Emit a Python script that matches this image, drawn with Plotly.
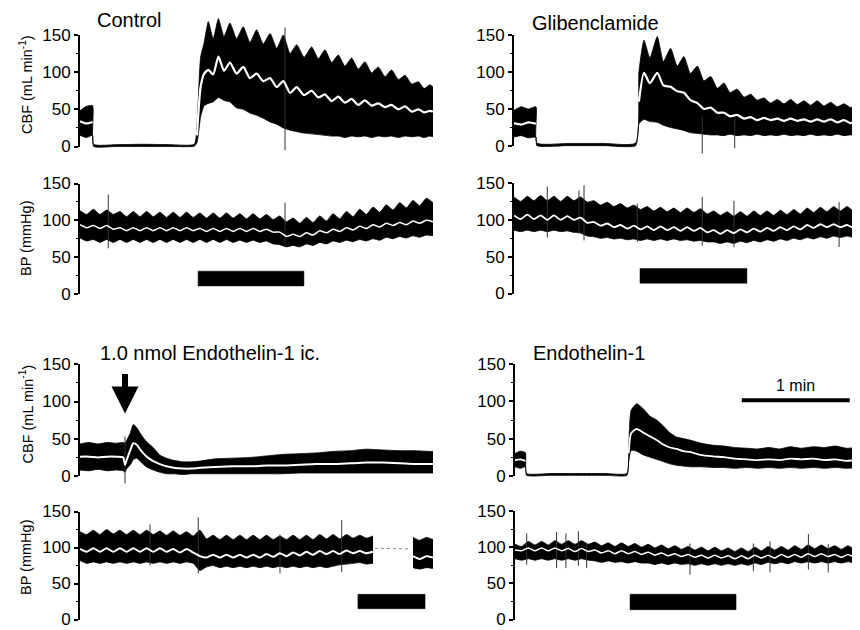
import plotly.graph_objects as go

# page body keeps an 8 px default margin, so the figure is drawn 8 px smaller and positions
# below are given in window pixels, then shifted by that offset
OFF = 8
W, H = 860 - OFF, 630 - OFF
FONT = "Liberation Sans, Arial, Helvetica, sans-serif"

# ---------------- data: time (s), CBF (mL/min), BP (mmHg) ----------------
# Control, CBF envelope (hi/lo) and mean
CTRL_CBF_T = [0, 3.5, 7.0, 7.6, 20, 35, 50, 63.5, 65, 67, 69, 71.3, 74, 76.9, 80, 83.3,
              87, 90.7, 94.4, 98.1, 101.8, 105.6, 109.3, 113, 116.7, 120.4, 124.5, 128.7,
              132.4, 136.1, 139.8, 143.5, 147.2, 150.9, 154.6, 158.3, 162, 165.7, 169.4,
              173.1, 176.9, 180.6, 184.3, 188, 191.2, 194.4, 196.1]
CTRL_CBF_HI = [48, 54, 55, 3, 2.5, 3, 2.5, 3, 30, 120, 140, 168, 145, 172, 148, 166,
               145, 161, 140, 157, 138, 152, 132, 150, 125, 137, 120, 134, 118, 130, 113, 123,
               108, 119, 104, 114, 99, 107, 94, 103, 90, 96, 84, 87, 78, 83, 80]
CTRL_CBF_LO = [15, 12, 15, 0, 0, 0, 0, 0.5, 5, 40, 55, 58, 60, 66, 62, 60,
               52, 50, 45, 42, 38, 33, 30, 25, 22, 20, 18, 17, 16, 15, 14, 14,
               12, 14, 13, 14, 12, 14, 13, 14, 12, 14, 13, 14, 12, 14, 13]
CTRL_CBF_MEAN = [34, 31, 33, None, None, None, None, None, 15, 80, 98, 103, 97, 121, 102, 113,
                 98, 107, 92, 98, 88, 92, 80, 88, 72, 80, 69, 75, 66, 70, 61, 67,
                 59, 64, 56, 62, 55, 58, 53, 56, 50, 54, 47, 50, 46, 48, 47]
CTRL_CBF_SPIKE_T = [113.9]
CTRL_CBF_SPIKE_TOP = [160]
CTRL_CBF_SPIKE_BOT = [-5]

# Glibenclamide, CBF
GLIB_CBF_T = [0, 4, 8, 12.2, 12.7, 30, 50, 67.6, 69.4, 72.2, 75.5, 79.6, 83, 87, 90.7, 94.4,
              98, 101.9, 105.5, 109.3, 113, 116.7, 120, 124, 127.8, 131.5, 135, 138.9, 142.6,
              146.3, 150, 153.7, 157.4, 161.1, 164.8, 168.5, 172.2, 175.9, 179.6, 183.3, 187,
              190, 192.6]
GLIB_CBF_HI = [48, 53, 50, 53, 4, 3.5, 3.5, 4, 100, 143, 119, 148, 114, 132, 108, 121,
               98, 108, 88, 94, 78, 85, 72, 77, 66, 70, 62, 65, 58, 63, 57, 63,
               56, 61, 55, 61, 54, 59, 53, 57, 52, 56, 55]
GLIB_CBF_LO = [12, 14, 11, 12, 0.5, 0.5, 0.5, 0.5, 30, 36, 33, 32, 28, 25, 23, 21,
               18, 17, 16, 15, 15, 14, 16, 14, 15, 14, 16, 14, 15, 14, 16, 14,
               15, 14, 16, 14, 15, 14, 16, 14, 15, 14, 15]
GLIB_CBF_MEAN = [31, 29, 32, 30, None, None, None, None, 60, 99, 85, 99, 82, 80, 74, 72,
                 62, 58, 50, 52, 45, 45, 40, 42, 37, 39, 35, 38, 35, 37, 34, 37,
                 34, 36, 33, 36, 33, 36, 32, 35, 31, 34, 32]
GLIB_CBF_SPIKE_T = [104.6, 122.6]
GLIB_CBF_SPIKE_TOP = [40, 38]
GLIB_CBF_SPIKE_BOT = [-10, -3]

# BP traces sampled every half respiratory cycle
BP_DT = 3.7
CTRL_BP_HI = [113, 108, 115, 108, 114, 108, 112, 105, 112, 105,
              112, 105, 111, 104, 111, 104, 111, 104, 110, 103,
              110, 103, 110, 103, 109, 102, 109, 102, 108, 101,
              106, 98, 103, 96, 104, 97, 106, 99, 109, 102,
              112, 105, 115, 108, 118, 111, 121, 114, 124, 117,
              127, 120, 130, 124]
CTRL_BP_LO = [76, 72, 74, 70, 74, 70, 74, 70, 74, 70,
              74, 70, 74, 70, 74, 70, 74, 70, 74, 70,
              74, 70, 74, 70, 73, 70, 73, 70, 72, 68,
              67, 64, 66, 64, 68, 66, 70, 68, 72, 70,
              73, 71, 74, 72, 75, 73, 77, 75, 78, 76,
              79, 77, 80, 79]
CTRL_BP_MEAN = [94, 90, 93, 89, 93, 88, 90, 86, 90, 86,
                90, 86, 90, 86, 90, 86, 90, 86, 89, 85,
                89, 85, 89, 85, 89, 85, 89, 85, 88, 84,
                84, 78, 81, 78, 83, 80, 86, 83, 88, 85,
                90, 87, 92, 89, 94, 91, 96, 93, 97, 94,
                99, 96, 100, 98]
CTRL_BP_SPIKE_T = [15.7, 113.9]
CTRL_BP_SPIKE_TOP = [135, 124]
CTRL_BP_SPIKE_BOT = [62, 64]

GLIB_BP_HI = [131, 125, 132, 126, 133, 126, 132, 125, 132, 126,
              131, 124, 126, 120, 124, 118, 122, 116, 120, 114,
              118, 112, 117, 111, 116, 110, 116, 110, 115, 108,
              112, 106, 111, 105, 111, 105, 112, 106, 112, 106,
              113, 107, 114, 108, 116, 110, 117, 111, 118, 112,
              118, 112, 117]
GLIB_BP_LO = [86, 84, 86, 84, 86, 84, 86, 84, 85, 83,
              82, 78, 77, 75, 76, 74, 75, 73, 74, 72,
              74, 72, 74, 72, 74, 72, 73, 71, 72, 70,
              70, 68, 70, 68, 71, 69, 72, 70, 73, 71,
              74, 72, 75, 73, 76, 74, 77, 75, 78, 76,
              78, 76, 77]
GLIB_BP_MEAN = [106, 101, 107, 101, 106, 100, 106, 100, 105, 100,
                103, 96, 97, 92, 95, 90, 93, 88, 92, 87,
                91, 86, 91, 86, 90, 85, 90, 85, 89, 83,
                86, 81, 86, 82, 87, 83, 88, 84, 89, 85,
                90, 86, 91, 87, 93, 89, 94, 90, 94, 90,
                93, 89, 92]
GLIB_BP_SPIKE_T = [18.5, 36.1, 38.9, 68.5, 104.6, 122.2, 180.6]
GLIB_BP_SPIKE_TOP = [145, 140, 147, 122, 131, 126, 124]
GLIB_BP_SPIKE_BOT = [76, 83, 72, 70, 65, 63, 63]

# 1.0 nmol Endothelin-1 ic., CBF
IC_CBF_T = [0, 5, 10, 15, 20, 24, 25, 26, 28, 29.6, 31.5, 33.3, 35, 37, 40.7, 44.4, 48,
            52, 57, 62, 66.7, 75, 85, 95, 103.7, 112, 122, 131, 140.7, 150, 159, 168,
            177.8, 186, 194.4, 196.1]
IC_CBF_HI = [43, 45, 43, 45, 44, 45, 44, 48, 58, 69, 65, 58, 52, 46, 38, 28, 24,
             21, 19, 19, 20, 23, 24, 25, 27, 29, 30, 31, 33, 34, 36, 35, 34, 34, 33, 33]
IC_CBF_LO = [8, 7, 9, 7, 8, 7, 5, 10, 15, 22, 24, 20, 16, 12, 8, 5, 3,
             3, 2, 3, 3, 3, 3, 3, 3, 3, 4, 4, 4, 4, 4, 4, 4, 4, 4, 4]
IC_CBF_MEAN = [26, 26, 25, 26, 26, 25, 15, 22, 35, 44, 42, 36, 31, 26, 20, 16, 13,
               11, 10, 10, 11, 12, 13, 13, 14, 14, 15, 16, 16, 17, 18, 18, 17, 16, 16, 16]
IC_CBF_SPIKE_T = [25.0]
IC_CBF_SPIKE_TOP = [53]
IC_CBF_SPIKE_BOT = [-10]
INJECTION_T = 25.0

# 1.0 nmol Endothelin-1 ic., BP (recording gap = None)
IC_BP_HI = [122, 118, 124, 118, 125, 119, 124, 118, 124, 118,
            124, 118, 123, 117, 123, 117, 122, 116, 124, 112,
            117, 111, 117, 111, 117, 111, 117, 111, 117, 111,
            116, 111, 117, 111, 117, 111, 118, 112, 118, 112,
            118, 113, 117, 113, 116, None, None, None, None, None,
            114, 110, 114, 111]
IC_BP_LO = [82, 78, 80, 78, 80, 78, 80, 78, 80, 78,
            80, 78, 80, 78, 80, 78, 80, 78, 68, 73,
            75, 72, 74, 72, 74, 72, 74, 72, 74, 72,
            74, 72, 74, 72, 74, 72, 74, 72, 74, 76,
            77, 78, 79, 77, 78, None, None, None, None, None,
            72, 70, 72, 71]
IC_BP_MEAN = [98, 94, 99, 94, 99, 94, 99, 94, 99, 94,
              99, 94, 99, 94, 98, 93, 98, 93, 88, 86,
              90, 86, 90, 86, 90, 86, 90, 86, 91, 87,
              92, 88, 93, 89, 94, 90, 95, 91, 95, 91,
              96, 92, 95, 92, 94, None, None, None, None, None,
              88, 84, 88, 86]
IC_BP_SPIKE_T = [38.9, 65.7, 111.1, 145.4]
IC_BP_SPIKE_TOP = [132, 142, 118, 138]
IC_BP_SPIKE_BOT = [75, 64, 64, 66]
IC_BP_GAP_T = [163.9, 183.3]
IC_BP_GAP_Y = [99, 98]

# Endothelin-1, CBF
ENDO_CBF_T = [0, 3, 5.8, 6.4, 20, 35, 50, 62.2, 63.2, 64.5, 67.6, 71.3, 75, 78.7, 82.4, 86,
              89.8, 93.5, 97.2, 103, 110, 116, 122, 128.7, 135, 141, 147, 153, 159, 165.7,
              172, 178, 184, 190, 192]
ENDO_CBF_HI = [30, 33, 31, 3, 3, 3, 3, 3, 40, 88, 97, 90, 80, 75, 67, 58,
               52, 50, 48, 44, 41, 40, 38, 37, 36, 38, 36, 39, 37, 39, 38, 40, 37, 38, 38]
ENDO_CBF_LO = [12, 10, 12, 0.5, 0.5, 0.5, 0.5, 0.5, 20, 34, 33, 28, 25, 22, 19, 16,
               14, 13, 12, 12, 11, 11, 10, 11, 10, 11, 10, 11, 10, 11, 10, 11, 10, 11, 11]
ENDO_CBF_MEAN = [21, 22, 20, None, None, None, None, None, 30, 57, 63, 58, 53, 48, 42, 38,
                 36, 33, 32, 28, 26, 25, 23, 22, 21, 22, 21, 23, 22, 23, 21, 22, 20, 21, 21]

# Endothelin-1, BP
ENDO_BP_HI = [104, 101, 108, 103, 108, 103, 109, 104, 109, 104,
              109, 104, 107, 102, 106, 101, 106, 101, 105, 100,
              104, 99, 103, 98, 102, 97, 101, 96, 100, 95,
              100, 95, 99, 94, 99, 94, 100, 95, 101, 96,
              101, 96, 102, 97, 103, 98, 103, 98, 102, 97,
              102, 97, 101]
ENDO_BP_LO = [84, 82, 84, 82, 84, 82, 84, 82, 84, 82,
              84, 82, 81, 79, 81, 79, 80, 78, 80, 78,
              78, 76, 78, 76, 78, 76, 77, 75, 77, 75,
              77, 75, 77, 75, 77, 75, 78, 76, 79, 77,
              79, 77, 80, 78, 80, 78, 80, 78, 80, 78,
              80, 78, 79]
ENDO_BP_MEAN = [96, 95, 99, 95, 99, 95, 99, 95, 98, 94,
                98, 94, 96, 92, 95, 91, 95, 91, 94, 90,
                93, 89, 92, 88, 91, 87, 90, 86, 89, 85,
                89, 85, 88, 84, 88, 84, 89, 85, 89, 85,
                90, 86, 90, 86, 91, 87, 91, 87, 90, 86,
                90, 86, 89]
ENDO_BP_SPIKE_T = [6.5, 23.1, 28.3, 35.2, 39.8, 97.2, 132.4, 141.7, 163.0, 174.0]
ENDO_BP_SPIKE_TOP = [119, 121, 119, 122, 106, 105, 105, 108, 118, 104]
ENDO_BP_SPIKE_BOT = [76, 71, 71, 74, 71, 62, 67, 65, 69, 65]

# infusion bars (control, glibenclamide, ic, endothelin-1)
STIM_START = [65.6, 70.0, 154.4, 63.9]
STIM_END = [124.4, 129.4, 191.7, 122.8]
STIM_LO = [11, 14, 15, 13.5]
STIM_HI = [31, 34, 35, 35]

# time scale bar
SCALE_T0 = 126
SCALE_LEN = 60
SCALE_Y = 101.5

TITLES = ["Control", "Glibenclamide", "1.0 nmol Endothelin-1 ic.", "Endothelin-1"]
Y_TICKS = [0, 50, 100, 150]
Y_MINOR = [25, 75, 125]


def bp_t(n):
    return [i * BP_DT for i in range(n)]


# ---------------- layout geometry (window pixels) ----------------
PX_PER_S = 1.8
# (left px, right px, px of value 0, px of value 150, data y range)
GEOM = {
    1: (80, 433, 146.5, 35.0, (-15, 180)),
    2: (514, 860, 146.0, 35.0, (-15, 180)),
    3: (80, 433, 294.0, 183.5, (-5, 160)),
    4: (514, 860, 293.5, 183.0, (-5, 160)),
    5: (80, 433, 476.0, 364.3, (-15, 180)),
    6: (515, 860, 475.7, 364.3, (-15, 180)),
    7: (80, 433, 619.5, 511.5, (-5, 160)),
    8: (515, 860, 619.5, 511.0, (-5, 160)),
}


def fx(px):
    return (px - OFF) / W


def fy(py):
    return 1 - (py - OFF) / H


fig = go.Figure()
layout = dict(
    width=W, height=H, autosize=False,
    margin=dict(l=0, r=0, t=0, b=0, pad=0, autoexpand=False),
    paper_bgcolor="white", plot_bgcolor="rgba(0,0,0,0)",
    showlegend=False, font=dict(family=FONT, color="black"),
)

for i, (l, r, y0, y150, (r0, r1)) in GEOM.items():
    k = (y0 - y150) / 150.0
    bottom = min(y0 - r0 * k, 630)
    r0 = (y0 - bottom) / k
    layout[f"xaxis{i}"] = dict(domain=[fx(l), fx(r)], range=[0, (r - l) / PX_PER_S],
                               visible=False, anchor=f"y{i}", fixedrange=True,
                               automargin=False)
    layout[f"yaxis{i}"] = dict(domain=[fy(bottom), fy(y0 - r1 * k)], range=[r0, r1],
                               visible=False, anchor=f"x{i}", fixedrange=True,
                               automargin=False)
    layout[f"yaxis{i + 8}"] = dict(
        domain=[fy(y0), fy(y150)], range=[0, 150], anchor=f"x{i}",
        showline=True, linecolor="black", linewidth=2,
        ticks="outside", ticklen=4, tickwidth=1.5, tickcolor="black",
        tickmode="array", tickvals=Y_TICKS, ticktext=[str(v) for v in Y_TICKS],
        tickfont=dict(size=17, family=FONT, color="black"), ticklabeloverflow="allow",
        minor=dict(tickmode="array", tickvals=Y_MINOR, ticks="outside", ticklen=2,
                   tickwidth=1, tickcolor="black"),
        showgrid=False, zeroline=False, fixedrange=True, automargin=False,
    )
    fig.add_trace(go.Scatter(x=[None], y=[None], xaxis=f"x{i}", yaxis=f"y{i + 8}",
                             hoverinfo="skip", showlegend=False))


def add_trace_set(panel, t, hi, lo, mean, mean_width, spike_t=(), spike_top=(), spike_bot=()):
    xa, ya = f"x{panel}", f"y{panel}"
    # split into contiguous recorded segments
    segs, cur = [], []
    for tt, h, lw in zip(t, hi, lo):
        if h is None:
            if cur:
                segs.append(cur)
            cur = []
        else:
            cur.append((tt, h, lw))
    if cur:
        segs.append(cur)
    for seg in segs:
        ts = [s[0] for s in seg]
        hs = [s[1] for s in seg]
        ls = [s[2] for s in seg]
        fig.add_trace(go.Scatter(
            x=ts, y=ls, mode="lines",
            line=dict(color="black", width=0.8, shape="spline", smoothing=0.5),
            xaxis=xa, yaxis=ya, hoverinfo="skip", showlegend=False))
        fig.add_trace(go.Scatter(
            x=ts, y=hs, mode="lines", fill="tonexty", fillcolor="black",
            line=dict(color="black", width=0.8, shape="spline", smoothing=0.5),
            xaxis=xa, yaxis=ya, hoverinfo="skip", showlegend=False))
    sx, sy = [], []
    for st, a, b in zip(spike_t, spike_top, spike_bot):
        sx += [st, st, None]
        sy += [b, a, None]
    if sx:
        fig.add_trace(go.Scatter(x=sx, y=sy, mode="lines", line=dict(color="#333333", width=1),
                                 xaxis=xa, yaxis=ya, hoverinfo="skip", showlegend=False))
    fig.add_trace(go.Scatter(
        x=t, y=mean, mode="lines", line=dict(color="white", width=mean_width, shape="spline",
                                             smoothing=0.6),
        connectgaps=False, xaxis=xa, yaxis=ya, hoverinfo="skip", showlegend=False))


add_trace_set(1, CTRL_CBF_T, CTRL_CBF_HI, CTRL_CBF_LO, CTRL_CBF_MEAN, 2.2,
              CTRL_CBF_SPIKE_T, CTRL_CBF_SPIKE_TOP, CTRL_CBF_SPIKE_BOT)
add_trace_set(2, GLIB_CBF_T, GLIB_CBF_HI, GLIB_CBF_LO, GLIB_CBF_MEAN, 2.2,
              GLIB_CBF_SPIKE_T, GLIB_CBF_SPIKE_TOP, GLIB_CBF_SPIKE_BOT)
add_trace_set(3, bp_t(len(CTRL_BP_HI)), CTRL_BP_HI, CTRL_BP_LO, CTRL_BP_MEAN, 1.5,
              CTRL_BP_SPIKE_T, CTRL_BP_SPIKE_TOP, CTRL_BP_SPIKE_BOT)
add_trace_set(4, bp_t(len(GLIB_BP_HI)), GLIB_BP_HI, GLIB_BP_LO, GLIB_BP_MEAN, 1.8,
              GLIB_BP_SPIKE_T, GLIB_BP_SPIKE_TOP, GLIB_BP_SPIKE_BOT)
add_trace_set(5, IC_CBF_T, IC_CBF_HI, IC_CBF_LO, IC_CBF_MEAN, 2.0,
              IC_CBF_SPIKE_T, IC_CBF_SPIKE_TOP, IC_CBF_SPIKE_BOT)
add_trace_set(6, ENDO_CBF_T, ENDO_CBF_HI, ENDO_CBF_LO, ENDO_CBF_MEAN, 1.8)
add_trace_set(7, bp_t(len(IC_BP_HI)), IC_BP_HI, IC_BP_LO, IC_BP_MEAN, 2.0,
              IC_BP_SPIKE_T, IC_BP_SPIKE_TOP, IC_BP_SPIKE_BOT)
add_trace_set(8, bp_t(len(ENDO_BP_HI)), ENDO_BP_HI, ENDO_BP_LO, ENDO_BP_MEAN, 1.5,
              ENDO_BP_SPIKE_T, ENDO_BP_SPIKE_TOP, ENDO_BP_SPIKE_BOT)

# recording gap (dotted)
fig.add_trace(go.Scatter(x=IC_BP_GAP_T, y=IC_BP_GAP_Y, mode="lines",
                         line=dict(color="#888888", width=1, dash="dot"),
                         xaxis="x7", yaxis="y7", hoverinfo="skip", showlegend=False))

# infusion bars under BP traces
for panel, s, e, lo, hi in zip([3, 4, 7, 8], STIM_START, STIM_END, STIM_LO, STIM_HI):
    fig.add_trace(go.Scatter(x=[s, e, e, s, s], y=[lo, lo, hi, hi, lo], mode="lines",
                             fill="toself", fillcolor="black", line=dict(color="black", width=0.5),
                             xaxis=f"x{panel}", yaxis=f"y{panel}", hoverinfo="skip",
                             showlegend=False))

# 1 min scale bar
fig.add_trace(go.Scatter(x=[SCALE_T0, SCALE_T0 + SCALE_LEN], y=[SCALE_Y, SCALE_Y], mode="lines",
                         line=dict(color="black", width=4), xaxis="x6", yaxis="y6",
                         hoverinfo="skip", showlegend=False))

annotations = []
title_pos = [(95, 20.5), (530, 22.5), (98, 353.5), (531, 352.5)]
for text, (px, py) in zip(TITLES, title_pos):
    annotations.append(dict(text=text, x=fx(px), y=fy(py), xref="paper", yref="paper",
                            xanchor="left", yanchor="middle", showarrow=False,
                            font=dict(size=20, family=FONT, color="black")))

ytitles = [("CBF (mL min<sup>-1</sup>)", 85), ("BP (mmHg)", 239),
           ("CBF (mL min<sup>-1</sup>)", 414.5), ("BP (mmHg)", 558)]
for text, py in ytitles:
    annotations.append(dict(text=text, x=fx(26), y=fy(py), xref="paper", yref="paper",
                            xanchor="center", yanchor="middle", textangle=-90, showarrow=False,
                            font=dict(size=14.5, family=FONT, color="black")))

annotations.append(dict(text="1 min", x=SCALE_T0 + SCALE_LEN / 2, y=122, xref="x6", yref="y6",
                        xanchor="center", yanchor="middle", showarrow=False,
                        font=dict(size=16, family=FONT, color="black")))

# injection arrow (tip at the injection time, above the trace)
annotations.append(dict(text=" ", x=INJECTION_T, y=84, xref="x5", yref="y5",
                        ax=0, ay=-48, showarrow=True, arrowhead=2, arrowsize=0.9,
                        arrowwidth=6, arrowcolor="black", standoff=0,
                        font=dict(size=12)))

layout["annotations"] = annotations
fig.update_layout(**layout)
fig.write_html("out.html")
